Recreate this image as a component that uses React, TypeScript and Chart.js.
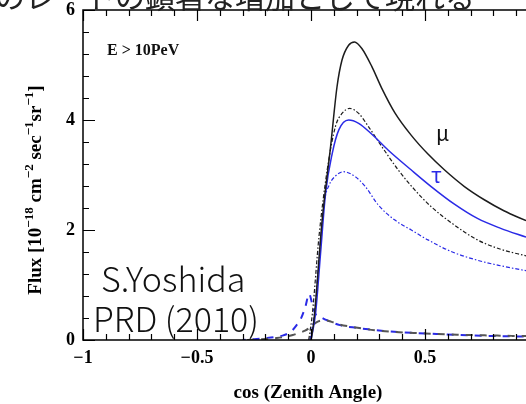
import React, { useEffect, useRef } from "react";
import { Chart, registerables } from "chart.js";

Chart.register(...registerables);

// ---- data (cos zenith angle vs flux [1e-18 cm^-2 s^-1 sr^-1]) ----
const xTicks = [-1, -0.5, 0, 0.5];
const xTickLabels = ["\u22121", "\u22120.5", "0", "0.5"];
const yTicks = [0, 2, 4, 6];
const yTickLabels = ["0", "2", "4", "6"];

const muSolidX = [0.0, 0.013, 0.049, 0.086, 0.114, 0.136, 0.165, 0.191, 0.223, 0.267, 0.31, 0.368, 0.44, 0.513, 0.586, 0.673, 0.76, 0.846, 0.943];
const muSolidY = [0.0, 0.36, 2.18, 3.52, 4.6, 5.09, 5.36, 5.42, 5.3, 4.97, 4.58, 4.13, 3.72, 3.38, 3.09, 2.79, 2.55, 2.35, 2.17];

const tauSolidX = [0.0, 0.02, 0.042, 0.064, 0.093, 0.122, 0.165, 0.209, 0.267, 0.339, 0.44, 0.527, 0.629, 0.73, 0.832, 0.943];
const tauSolidY = [0.0, 0.48, 1.58, 2.67, 3.39, 3.82, 4.0, 3.94, 3.74, 3.45, 3.09, 2.79, 2.47, 2.21, 2.03, 1.87];

const muDashDotX = [-0.01, 0.006, 0.035, 0.071, 0.107, 0.136, 0.17, 0.209, 0.252, 0.31, 0.383, 0.455, 0.528, 0.629, 0.73, 0.832, 0.943];
const muDashDotY = [0.0, 0.48, 1.88, 3.09, 3.88, 4.12, 4.21, 4.12, 3.88, 3.52, 3.09, 2.73, 2.42, 2.09, 1.82, 1.65, 1.53];

const tauDashDotX = [-0.005, 0.015, 0.035, 0.058, 0.08, 0.107, 0.143, 0.194, 0.238, 0.296, 0.368, 0.44, 0.513, 0.614, 0.73, 0.832, 0.943];
const tauDashDotY = [0.0, 0.5, 1.5, 2.5, 2.82, 2.98, 3.06, 2.97, 2.79, 2.45, 2.18, 2.0, 1.82, 1.61, 1.45, 1.35, 1.26];

const muDashedX = [-0.28, -0.2, -0.15, -0.11, -0.08, -0.052, -0.026, 0.0, 0.02, 0.04, 0.06, 0.09, 0.127, 0.18, 0.238, 0.296, 0.354, 0.412, 0.47, 0.527, 0.586, 0.643, 0.7, 0.76, 0.817, 0.88, 0.943];
const muDashedY = [0.0, 0.02, 0.035, 0.06, 0.09, 0.13, 0.17, 0.24, 0.31, 0.35, 0.36, 0.33, 0.28, 0.24, 0.2, 0.17, 0.15, 0.135, 0.125, 0.115, 0.105, 0.097, 0.09, 0.085, 0.08, 0.075, 0.072];

const tauDashedX = [-0.3, -0.25, -0.2, -0.15, -0.125, -0.1, -0.081, -0.063, -0.045, -0.025, -0.008, 0.005, 0.02, 0.045, 0.07, 0.127, 0.2, 0.26, 0.33, 0.4, 0.47, 0.55, 0.63, 0.7, 0.78, 0.86, 0.943];
const tauDashedY = [0.0, 0.015, 0.035, 0.06, 0.08, 0.12, 0.18, 0.27, 0.38, 0.6, 0.84, 0.66, 0.47, 0.41, 0.36, 0.27, 0.22, 0.19, 0.16, 0.14, 0.125, 0.11, 0.095, 0.085, 0.075, 0.068, 0.062];

const X_MIN = -1;
const X_MAX = 0.943;
const Y_MIN = 0;
const Y_MAX = 6;

const BLACK = "#1c1c1c";
const BLUE = "#2a2ae6";

function zip(xs: number[], ys: number[]) {
  return xs.map((x, i) => ({ x, y: ys[i] }));
}

const serif = '"Liberation Serif", "DejaVu Serif", serif';
const cjk = '"Noto Sans CJK JP", "Noto Sans", sans-serif';

const decorPlugin = {
  id: "decor",
  afterDraw(chart: any) {
    const ctx = chart.ctx as CanvasRenderingContext2D;
    const { left, right, top, bottom } = chart.chartArea;
    const xs = chart.scales.x;
    const ys = chart.scales.y;
    ctx.save();
    // frame
    ctx.strokeStyle = "#000";
    ctx.lineWidth = 1.5;
    ctx.beginPath();
    ctx.moveTo(right + 2, top);
    ctx.lineTo(left, top);
    ctx.lineTo(left, bottom);
    ctx.lineTo(right + 2, bottom);
    ctx.stroke();
    // ticks
    ctx.lineWidth = 1.2;
    ctx.beginPath();
    for (let i = 0; i <= 15; i++) {
      const v = i * 0.4;
      const py = Math.round(ys.getPixelForValue(v)) + 0.5;
      const len = Math.abs(v - Math.round(v / 2) * 2) < 1e-6 ? 12 : 6;
      ctx.moveTo(left, py);
      ctx.lineTo(left + len, py);
    }
    for (let i = 0; i <= 20; i++) {
      const v = -1 + i * 0.1;
      if (v > X_MAX + 1e-6) break;
      const px = Math.round(xs.getPixelForValue(v)) + 0.5;
      const major = Math.abs(v * 2 - Math.round(v * 2)) < 1e-6;
      const len = major ? 11 : 6;
      ctx.moveTo(px, bottom);
      ctx.lineTo(px, bottom - len);
      ctx.moveTo(px, top);
      ctx.lineTo(px, top + len);
    }
    ctx.stroke();

    // in-plot labels
    ctx.fillStyle = "#111";
    ctx.textAlign = "left";
    ctx.textBaseline = "alphabetic";
    ctx.font = `bold 16px ${serif}`;
    ctx.fillText("E > 10PeV", 107, 55);

    ctx.font = `21px ${cjk}`;
    ctx.fillStyle = "#111";
    ctx.fillText("\u03bc", 436, 141);
    ctx.fillStyle = BLUE;
    ctx.fillText("\u03c4", 431, 183);

    ctx.fillStyle = "#111";
    ctx.font = `300 34px ${cjk}`;
    ctx.fillText("S.Yoshida", 101, 292);
    ctx.fillText("PRD (2010)", 93, 332);

    // slide text (cut at top)
    ctx.font = `30px ${cjk}`;
    ctx.fillStyle = "#222";
    ctx.fillText("のレートの顕著な増加として現れる", -5, 8);

    // x title
    ctx.fillStyle = "#000";
    ctx.font = `bold 19px ${serif}`;
    ctx.textAlign = "center";
    ctx.fillText("cos (Zenith Angle)", 308, 398);

    // y title with superscripts
    const parts: [string, boolean][] = [
      ["Flux [10", false],
      ["\u221218", true],
      [" cm", false],
      ["\u22122", true],
      [" sec", false],
      ["\u22121", true],
      ["sr", false],
      ["\u22121", true],
      ["]", false],
    ];
    const mainFont = `bold 19px ${serif}`;
    const supFont = `bold 13px ${serif}`;
    let total = 0;
    for (const [t, sup] of parts) {
      ctx.font = sup ? supFont : mainFont;
      total += ctx.measureText(t).width;
    }
    ctx.translate(41, 190);
    ctx.rotate(-Math.PI / 2);
    ctx.textAlign = "left";
    let cx = -total / 2;
    for (const [t, sup] of parts) {
      ctx.font = sup ? supFont : mainFont;
      ctx.fillText(t, cx, sup ? -8 : 0);
      cx += ctx.measureText(t).width;
    }
    ctx.restore();
  },
};

export default function App() {
  const ref = useRef<HTMLCanvasElement | null>(null);
  useEffect(() => {
    document.body.style.margin = "0";
    const canvas = ref.current!;
    const mk = (xs: number[], ys: number[], color: string, dash: number[], width: number, offset = 0) => ({
      data: zip(xs, ys),
      borderColor: color,
      borderWidth: width,
      borderDash: dash,
      borderDashOffset: offset,
      pointRadius: 0,
      fill: false,
      cubicInterpolationMode: "monotone" as const,
    });
    const chart = new Chart(canvas, {
      type: "line",
      data: {
        datasets: [
          mk(muSolidX, muSolidY, BLACK, [], 1.5),
          mk(tauSolidX, tauSolidY, BLUE, [], 1.5),
          mk(muDashDotX, muDashDotY, BLACK, [4, 2, 1.5, 2], 1.2),
          mk(tauDashDotX, tauDashDotY, BLUE, [4, 2, 1.5, 2], 1.2),
          mk(muDashedX, muDashedY, "#555", [7, 7], 2),
          mk(tauDashedX, tauDashedY, BLUE, [7, 7], 2, 4),
        ],
      },
      options: {
        animation: false,
        responsive: false,
        devicePixelRatio: 1,
        layout: { padding: { top: 10, left: 0, right: 0, bottom: 0 } },
        plugins: { legend: { display: false }, tooltip: { enabled: false } },
        scales: {
          x: {
            type: "linear",
            min: X_MIN,
            max: X_MAX,
            grid: { display: false, drawTicks: false },
            border: { display: false },
            afterBuildTicks: (s: any) => {
              s.ticks = xTicks.map((v) => ({ value: v }));
            },
            afterFit: (s: any) => {
              s.height = 64;
              s.paddingLeft = 0;
              s.paddingRight = 0;
            },
            ticks: {
              padding: 8,
              color: "#000",
              font: { family: serif, size: 18, weight: "bold" },
              maxRotation: 0,
              autoSkip: false,
              callback: (v: any) => {
                const i = xTicks.findIndex((t) => Math.abs(t - Number(v)) < 1e-6);
                return i >= 0 ? xTickLabels[i] : "";
              },
            },
          },
          y: {
            type: "linear",
            min: Y_MIN,
            max: Y_MAX,
            grid: { display: false, drawTicks: false },
            border: { display: false },
            afterBuildTicks: (s: any) => {
              s.ticks = yTicks.map((v) => ({ value: v }));
            },
            afterFit: (s: any) => {
              s.width = 83;
              s.paddingTop = 0;
              s.paddingBottom = 0;
            },
            ticks: {
              padding: 8,
              color: "#000",
              font: { family: serif, size: 18, weight: "bold" },
              callback: (v: any) => {
                const i = yTicks.findIndex((t) => Math.abs(t - Number(v)) < 1e-6);
                return i >= 0 ? yTickLabels[i] : "";
              },
            },
          },
        },
      },
      plugins: [decorPlugin],
    });
    return () => chart.destroy();
  }, []);
  return (
    <canvas
      ref={ref}
      width={526}
      height={404}
      style={{ display: "block", width: 526, height: 404, background: "#fff" }}
    />
  );
}
